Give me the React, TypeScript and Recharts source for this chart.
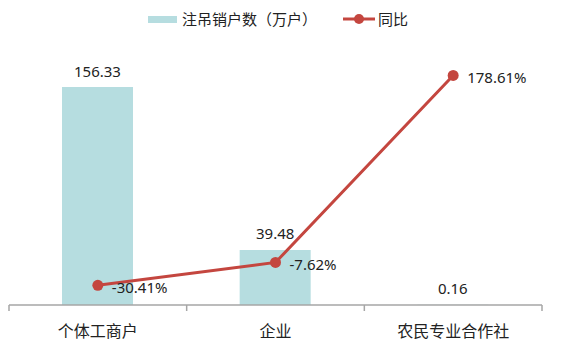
import React from 'react';
import { ComposedChart, Bar, Line, XAxis, YAxis, Legend, LabelList } from 'recharts';

const categories = ['个体工商户', '企业', '农民专业合作社'];
const cancelled = [156.33, 39.48, 0.16];
const yoy = [-30.41, -7.62, 178.61];
const barName = '注吊销户数（万户）';
const lineName = '同比';

const data = categories.map((c, i) => ({ name: c, cancelled: cancelled[i], yoy: yoy[i] }));

const BAR_COLOR = '#b6dde0';
const LINE_COLOR = '#c4463f';
const TEXT_COLOR = '#222222';
const AXIS_COLOR = '#a6a6a6';
const CJK = '"Noto Sans CJK SC", "Noto Sans", sans-serif';
const NUM = '"Noto Sans", "Noto Sans CJK SC", sans-serif';

const W = 561;
const H = 359;
const MARGIN = { top: 30, right: 19, bottom: 24, left: 9 };
const TICK_SIZE = 6;
const TICK_MARGIN = 15;
const BAND = (W - MARGIN.left - MARGIN.right) / categories.length;

const LegendContent = () => (
  <div style={{ position: 'relative', height: 24, width: W, fontFamily: CJK, fontSize: 15, color: TEXT_COLOR }}>
    <div style={{ position: 'absolute', left: 148, top: 10, width: 29, height: 7, background: BAR_COLOR }} />
    <div style={{ position: 'absolute', left: 182, top: 2, lineHeight: '22px', whiteSpace: 'nowrap' }}>{barName}</div>
    <svg style={{ position: 'absolute', left: 343, top: 6 }} width={32} height={14}>
      <line x1={0} y1={7} x2={32} y2={7} stroke={LINE_COLOR} strokeWidth={3} />
      <circle cx={16} cy={7} r={5} fill={LINE_COLOR} />
    </svg>
    <div style={{ position: 'absolute', left: 378, top: 2, lineHeight: '22px', whiteSpace: 'nowrap' }}>{lineName}</div>
  </div>
);

const CategoryTick = (props: any) => {
  const { x, y, payload, index } = props;
  const axisY = y - TICK_SIZE - TICK_MARGIN;
  const left = x - BAND / 2;
  const right = x + BAND / 2;
  return (
    <g>
      <line x1={left} y1={axisY} x2={left} y2={axisY + 6} stroke={AXIS_COLOR} strokeWidth={1.5} />
      {index === categories.length - 1 && (
        <line x1={right} y1={axisY} x2={right} y2={axisY + 6} stroke={AXIS_COLOR} strokeWidth={1.5} />
      )}
      <text x={x} y={y} dy="0.71em" textAnchor="middle" fontFamily={CJK} fontSize={16} fill={TEXT_COLOR}>
        {payload.value}
      </text>
    </g>
  );
};

const BarLabel = (props: any) => {
  const { x, y, width, value } = props;
  return (
    <text x={x + width / 2} y={y - 10.5} textAnchor="middle" fontFamily={NUM} fontSize={15} fill={TEXT_COLOR}>
      {Number(value).toFixed(2)}
    </text>
  );
};

const LineLabel = (props: any) => {
  const { x, y, value } = props;
  return (
    <text x={x + 14} y={y + 1.5} dominantBaseline="central" textAnchor="start" fontFamily={NUM} fontSize={15} fill={TEXT_COLOR}>
      {Number(value).toFixed(2)}%
    </text>
  );
};

export default function App() {
  return (
    <div style={{ position: 'absolute', left: 0, top: 0, width: W, height: H, background: '#fff' }}>
      <ComposedChart width={W} height={H} data={data} margin={MARGIN}>
        <Legend verticalAlign="top" content={<LegendContent />} wrapperStyle={{ top: 6, left: 0, width: W, height: 24 }} />
        <XAxis
          dataKey="name"
          height={30}
          axisLine={{ stroke: AXIS_COLOR, strokeWidth: 1.5 }}
          tickLine={false}
          tickSize={TICK_SIZE}
          tickMargin={TICK_MARGIN}
          tick={<CategoryTick />}
          interval={0}
        />
        <YAxis yAxisId="left" domain={[0, 180]} hide />
        <YAxis yAxisId="right" orientation="right" domain={[-50, 200]} hide />
        <Bar yAxisId="left" dataKey="cancelled" fill={BAR_COLOR} barSize={71} isAnimationActive={false}>
          <LabelList dataKey="cancelled" content={<BarLabel />} />
        </Bar>
        <Line
          yAxisId="right"
          dataKey="yoy"
          stroke={LINE_COLOR}
          strokeWidth={3}
          dot={{ r: 5.5, fill: LINE_COLOR, stroke: LINE_COLOR, strokeWidth: 0 }}
          isAnimationActive={false}
        >
          <LabelList dataKey="yoy" content={<LineLabel />} />
        </Line>
      </ComposedChart>
    </div>
  );
}
